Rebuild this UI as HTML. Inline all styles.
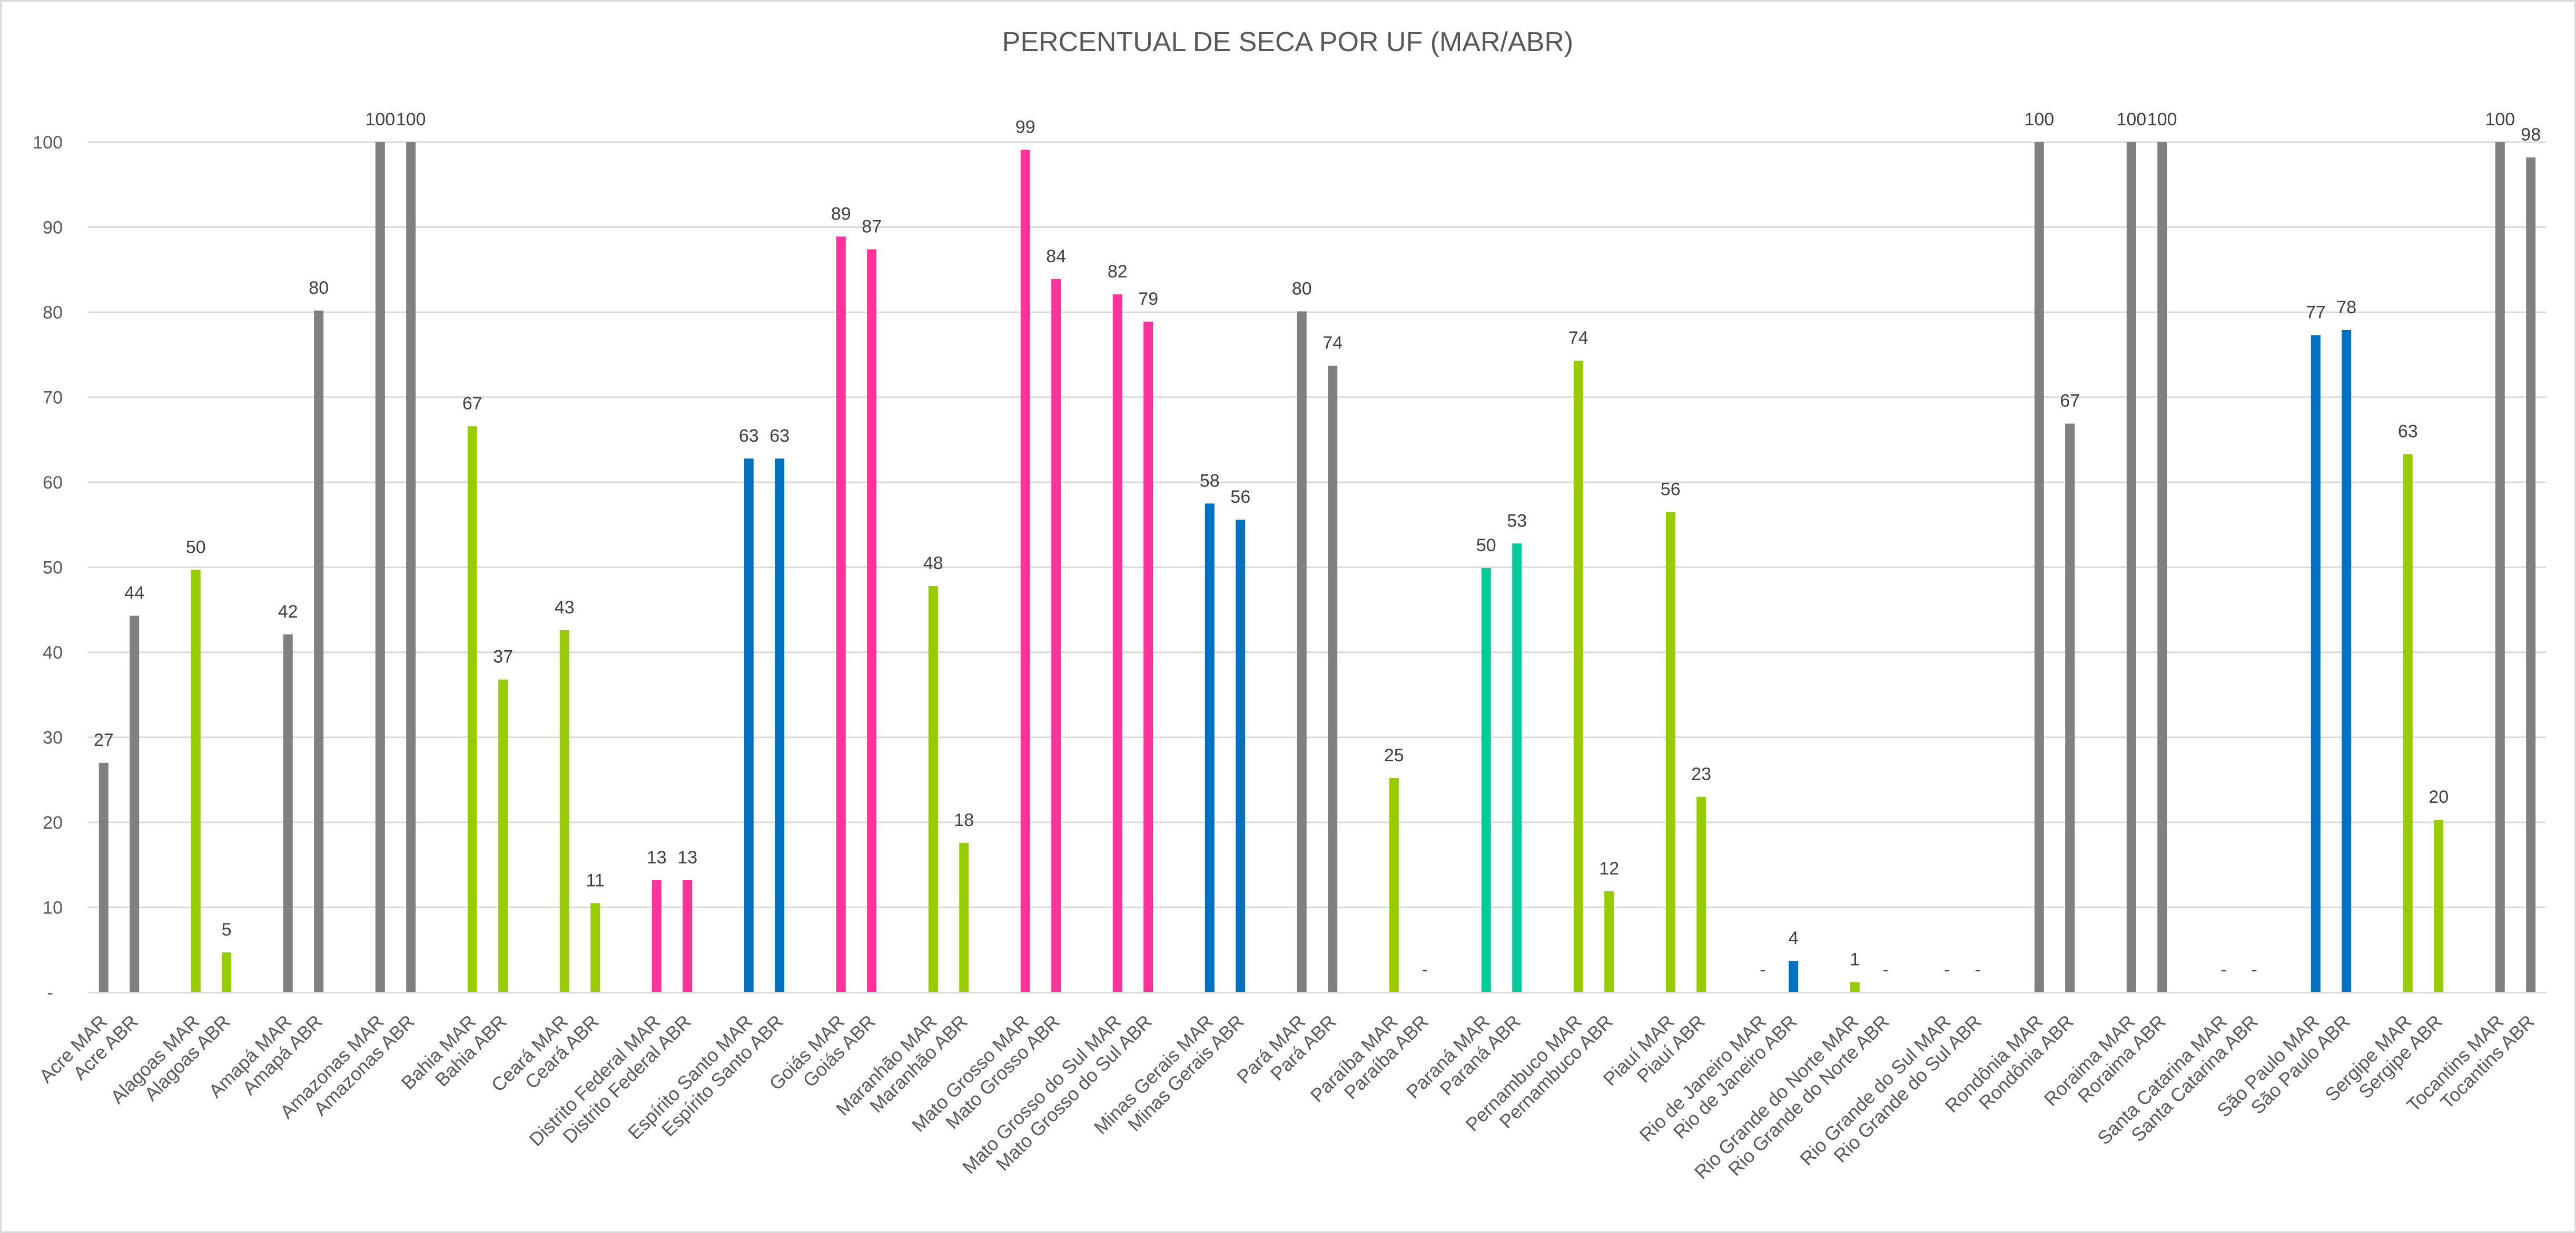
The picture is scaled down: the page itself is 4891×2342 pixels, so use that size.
<!DOCTYPE html>
<html><head><meta charset="utf-8"><style>
html,body{margin:0;padding:0;background:#fff;}
svg{display:block;}
.t{font-family:"Liberation Sans",Arial,sans-serif;}
</style></head><body>
<svg width="4891" height="2342" viewBox="0 0 4891 2342" xmlns="http://www.w3.org/2000/svg">
<rect x="0" y="0" width="4891" height="2342" fill="#fff"/>
<rect x="1.5" y="1.5" width="4888" height="2339" fill="none" stroke="#d9d9d9" stroke-width="3"/>
<text class="t" x="2445" y="97" font-size="52" fill="#595959" text-anchor="middle">PERCENTUAL DE SECA POR UF (MAR/ABR)</text>
<g stroke="#d9d9d9" stroke-width="3">
<line x1="167" y1="270" x2="4834" y2="270"/>
<line x1="167" y1="431.5" x2="4834" y2="431.5"/>
<line x1="167" y1="593" x2="4834" y2="593"/>
<line x1="167" y1="754.5" x2="4834" y2="754.5"/>
<line x1="167" y1="916" x2="4834" y2="916"/>
<line x1="167" y1="1077.5" x2="4834" y2="1077.5"/>
<line x1="167" y1="1239" x2="4834" y2="1239"/>
<line x1="167" y1="1400.5" x2="4834" y2="1400.5"/>
<line x1="167" y1="1562" x2="4834" y2="1562"/>
<line x1="167" y1="1723.5" x2="4834" y2="1723.5"/>
</g>
<g class="t" font-size="34" fill="#595959" text-anchor="end">
<text x="119" y="282">100</text>
<text x="119" y="443.5">90</text>
<text x="119" y="605">80</text>
<text x="119" y="766.5">70</text>
<text x="119" y="928">60</text>
<text x="119" y="1089.5">50</text>
<text x="119" y="1251">40</text>
<text x="119" y="1412.5">30</text>
<text x="119" y="1574">20</text>
<text x="119" y="1735.5">10</text>
<text x="101" y="1897">-</text>
</g>
<g fill="#808080">
<rect x="187.8" y="1448.9" width="18" height="436.1"/>
<rect x="246.2" y="1169.6" width="18" height="715.4"/>
<rect x="537.8" y="1205.1" width="18" height="679.9"/>
<rect x="596.2" y="589.8" width="18" height="1295.2"/>
<rect x="712.8" y="270" width="18" height="1615"/>
<rect x="771.2" y="270" width="18" height="1615"/>
<rect x="2462.8" y="591.4" width="18" height="1293.6"/>
<rect x="2521.2" y="694.7" width="18" height="1190.3"/>
<rect x="3862.8" y="270" width="18" height="1615"/>
<rect x="3921.2" y="804.6" width="18" height="1080.4"/>
<rect x="4037.8" y="270" width="18" height="1615"/>
<rect x="4096.2" y="270" width="18" height="1615"/>
<rect x="4737.8" y="270" width="18" height="1615"/>
<rect x="4796.2" y="299.1" width="18" height="1585.9"/>
</g>
<g fill="#99cc00">
<rect x="362.8" y="1082.3" width="18" height="802.7"/>
<rect x="421.2" y="1809.1" width="18" height="75.9"/>
<rect x="887.8" y="809.4" width="18" height="1075.6"/>
<rect x="946.2" y="1290.7" width="18" height="594.3"/>
<rect x="1062.8" y="1197" width="18" height="688"/>
<rect x="1121.2" y="1715.4" width="18" height="169.6"/>
<rect x="1762.8" y="1113" width="18" height="772"/>
<rect x="1821.2" y="1600.8" width="18" height="284.2"/>
<rect x="2637.8" y="1478" width="18" height="407"/>
<rect x="2987.8" y="685.1" width="18" height="1199.9"/>
<rect x="3046.2" y="1692.8" width="18" height="192.2"/>
<rect x="3162.8" y="972.5" width="18" height="912.5"/>
<rect x="3221.2" y="1513.5" width="18" height="371.5"/>
<rect x="3512.8" y="1865.6" width="18" height="19.4"/>
<rect x="4562.8" y="862.7" width="18" height="1022.3"/>
<rect x="4621.2" y="1557.2" width="18" height="327.8"/>
</g>
<g fill="#ff3399">
<rect x="1237.8" y="1671.8" width="18" height="213.2"/>
<rect x="1296.2" y="1671.8" width="18" height="213.2"/>
<rect x="1587.8" y="449.3" width="18" height="1435.7"/>
<rect x="1646.2" y="473.5" width="18" height="1411.5"/>
<rect x="1937.8" y="284.5" width="18" height="1600.5"/>
<rect x="1996.2" y="530" width="18" height="1355"/>
<rect x="2112.8" y="559.1" width="18" height="1325.9"/>
<rect x="2171.2" y="610.8" width="18" height="1274.2"/>
</g>
<g fill="#0070c0">
<rect x="1412.8" y="870.8" width="18" height="1014.2"/>
<rect x="1471.2" y="870.8" width="18" height="1014.2"/>
<rect x="2287.8" y="956.4" width="18" height="928.6"/>
<rect x="2346.2" y="987.1" width="18" height="897.9"/>
<rect x="3396.2" y="1825.2" width="18" height="59.8"/>
<rect x="4387.8" y="636.6" width="18" height="1248.4"/>
<rect x="4446.2" y="626.9" width="18" height="1258.1"/>
</g>
<g fill="#00cc99">
<rect x="2812.8" y="1079.1" width="18" height="805.9"/>
<rect x="2871.2" y="1032.3" width="18" height="852.7"/>
</g>
<line x1="167" y1="1885.5" x2="4834" y2="1885.5" stroke="#d9d9d9" stroke-width="3"/>
<g class="t" font-size="34" fill="#404040" text-anchor="middle">
<text x="196.8" y="1416.9">27</text><text x="255.2" y="1137.6">44</text>
<text x="371.8" y="1050.3">50</text><text x="430.2" y="1777.1">5</text>
<text x="546.8" y="1173.1">42</text><text x="605.2" y="557.8">80</text>
<text x="721.8" y="238">100</text><text x="780.2" y="238">100</text>
<text x="896.8" y="777.4">67</text><text x="955.2" y="1258.7">37</text>
<text x="1071.8" y="1165">43</text><text x="1130.2" y="1683.4">11</text>
<text x="1246.8" y="1639.8">13</text><text x="1305.2" y="1639.8">13</text>
<text x="1421.8" y="838.8">63</text><text x="1480.2" y="838.8">63</text>
<text x="1596.8" y="417.3">89</text><text x="1655.2" y="441.5">87</text>
<text x="1771.8" y="1081">48</text><text x="1830.2" y="1568.8">18</text>
<text x="1946.8" y="252.5">99</text><text x="2005.2" y="498">84</text>
<text x="2121.8" y="527.1">82</text><text x="2180.2" y="578.8">79</text>
<text x="2296.8" y="924.4">58</text><text x="2355.2" y="955.1">56</text>
<text x="2471.8" y="559.4">80</text><text x="2530.2" y="662.7">74</text>
<text x="2646.8" y="1446">25</text><text x="2705.2" y="1853">-</text>
<text x="2821.8" y="1047.1">50</text><text x="2880.2" y="1000.3">53</text>
<text x="2996.8" y="653.1">74</text><text x="3055.2" y="1660.8">12</text>
<text x="3171.8" y="940.5">56</text><text x="3230.2" y="1481.5">23</text>
<text x="3346.8" y="1853">-</text><text x="3405.2" y="1793.2">4</text>
<text x="3521.8" y="1833.6">1</text><text x="3580.2" y="1853">-</text>
<text x="3696.8" y="1853">-</text><text x="3755.2" y="1853">-</text>
<text x="3871.8" y="238">100</text><text x="3930.2" y="772.6">67</text>
<text x="4046.8" y="238">100</text><text x="4105.2" y="238">100</text>
<text x="4221.8" y="1853">-</text><text x="4280.2" y="1853">-</text>
<text x="4396.8" y="604.6">77</text><text x="4455.2" y="594.9">78</text>
<text x="4571.8" y="830.7">63</text><text x="4630.2" y="1525.2">20</text>
<text x="4746.8" y="238">100</text><text x="4805.2" y="267.1">98</text>
</g>
<g class="t" font-size="36" fill="#595959" text-anchor="end">
<text transform="translate(205.8,1943) rotate(-45)">Acre MAR</text>
<text transform="translate(264.2,1943) rotate(-45)">Acre ABR</text>
<text transform="translate(380.8,1943) rotate(-45)">Alagoas MAR</text>
<text transform="translate(439.2,1943) rotate(-45)">Alagoas ABR</text>
<text transform="translate(555.8,1943) rotate(-45)">Amapá MAR</text>
<text transform="translate(614.2,1943) rotate(-45)">Amapá ABR</text>
<text transform="translate(730.8,1943) rotate(-45)">Amazonas MAR</text>
<text transform="translate(789.2,1943) rotate(-45)">Amazonas ABR</text>
<text transform="translate(905.8,1943) rotate(-45)">Bahia MAR</text>
<text transform="translate(964.2,1943) rotate(-45)">Bahia ABR</text>
<text transform="translate(1080.8,1943) rotate(-45)">Ceará MAR</text>
<text transform="translate(1139.2,1943) rotate(-45)">Ceará ABR</text>
<text transform="translate(1255.8,1943) rotate(-45)">Distrito Federal MAR</text>
<text transform="translate(1314.2,1943) rotate(-45)">Distrito Federal ABR</text>
<text transform="translate(1430.8,1943) rotate(-45)">Espírito Santo MAR</text>
<text transform="translate(1489.2,1943) rotate(-45)">Espírito Santo ABR</text>
<text transform="translate(1605.8,1943) rotate(-45)">Goiás MAR</text>
<text transform="translate(1664.2,1943) rotate(-45)">Goiás ABR</text>
<text transform="translate(1780.8,1943) rotate(-45)">Maranhão MAR</text>
<text transform="translate(1839.2,1943) rotate(-45)">Maranhão ABR</text>
<text transform="translate(1955.8,1943) rotate(-45)">Mato Grosso MAR</text>
<text transform="translate(2014.2,1943) rotate(-45)">Mato Grosso ABR</text>
<text transform="translate(2130.8,1943) rotate(-45)">Mato Grosso do Sul MAR</text>
<text transform="translate(2189.2,1943) rotate(-45)">Mato Grosso do Sul ABR</text>
<text transform="translate(2305.8,1943) rotate(-45)">Minas Gerais MAR</text>
<text transform="translate(2364.2,1943) rotate(-45)">Minas Gerais ABR</text>
<text transform="translate(2480.8,1943) rotate(-45)">Pará MAR</text>
<text transform="translate(2539.2,1943) rotate(-45)">Pará ABR</text>
<text transform="translate(2655.8,1943) rotate(-45)">Paraíba MAR</text>
<text transform="translate(2714.2,1943) rotate(-45)">Paraíba ABR</text>
<text transform="translate(2830.8,1943) rotate(-45)">Paraná MAR</text>
<text transform="translate(2889.2,1943) rotate(-45)">Paraná ABR</text>
<text transform="translate(3005.8,1943) rotate(-45)">Pernambuco MAR</text>
<text transform="translate(3064.2,1943) rotate(-45)">Pernambuco ABR</text>
<text transform="translate(3180.8,1943) rotate(-45)">Piauí MAR</text>
<text transform="translate(3239.2,1943) rotate(-45)">Piauí ABR</text>
<text transform="translate(3355.8,1943) rotate(-45)">Rio de Janeiro MAR</text>
<text transform="translate(3414.2,1943) rotate(-45)">Rio de Janeiro ABR</text>
<text transform="translate(3530.8,1943) rotate(-45)">Rio Grande do Norte MAR</text>
<text transform="translate(3589.2,1943) rotate(-45)">Rio Grande do Norte ABR</text>
<text transform="translate(3705.8,1943) rotate(-45)">Rio Grande do Sul MAR</text>
<text transform="translate(3764.2,1943) rotate(-45)">Rio Grande do Sul ABR</text>
<text transform="translate(3880.8,1943) rotate(-45)">Rondônia MAR</text>
<text transform="translate(3939.2,1943) rotate(-45)">Rondônia ABR</text>
<text transform="translate(4055.8,1943) rotate(-45)">Roraima MAR</text>
<text transform="translate(4114.2,1943) rotate(-45)">Roraima ABR</text>
<text transform="translate(4230.8,1943) rotate(-45)">Santa Catarina MAR</text>
<text transform="translate(4289.2,1943) rotate(-45)">Santa Catarina ABR</text>
<text transform="translate(4405.8,1943) rotate(-45)">São Paulo MAR</text>
<text transform="translate(4464.2,1943) rotate(-45)">São Paulo ABR</text>
<text transform="translate(4580.8,1943) rotate(-45)">Sergipe MAR</text>
<text transform="translate(4639.2,1943) rotate(-45)">Sergipe ABR</text>
<text transform="translate(4755.8,1943) rotate(-45)">Tocantins MAR</text>
<text transform="translate(4814.2,1943) rotate(-45)">Tocantins ABR</text>
</g>
</svg>
</body></html>
